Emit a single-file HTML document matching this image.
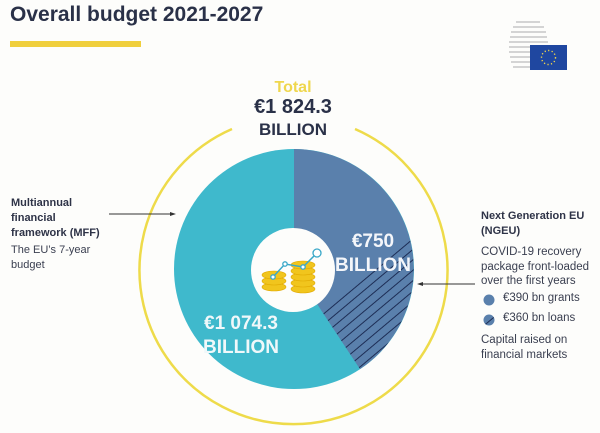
<!DOCTYPE html>
<html><head><meta charset="utf-8"><style>
html,body{margin:0;padding:0;background:#fdfdfb;}
body{width:600px;height:433px;position:relative;overflow:hidden;font-family:"Liberation Sans",sans-serif;color:#2b3147;}
.t{position:absolute;white-space:nowrap;}
</style></head><body>
<div class="t" style="left:10px;top:3px;font-size:21px;font-weight:bold;color:#2a3148;">Overall budget 2021-2027</div>
<div style="position:absolute;left:10px;top:41px;width:131px;height:6px;background:#f0cf3c;"></div>

<svg width="600" height="433" style="position:absolute;left:0;top:0">
  <defs>
    <pattern id="h" patternUnits="userSpaceOnUse" width="8" height="8" patternTransform="rotate(-40)">
      <rect width="8" height="8" fill="#5a80ac"/>
      <line x1="0" y1="0" x2="8" y2="0" stroke="#1d2d55" stroke-width="2"/>
    </pattern>
    <clipPath id="c"><polygon points="318,312 416,228 430,250 430,400 350,400"/></clipPath>
  </defs>
  <g stroke="#c7c7c7" stroke-width="1.6">
    <line x1="516" y1="22" x2="540" y2="22"/><line x1="513" y1="27" x2="544" y2="27"/>
    <line x1="511" y1="32" x2="546" y2="32"/><line x1="510" y1="37" x2="547" y2="37"/>
    <line x1="509" y1="42" x2="548" y2="42"/><line x1="509" y1="47" x2="530" y2="47"/>
    <line x1="509" y1="52" x2="530" y2="52"/><line x1="510" y1="57" x2="530" y2="57"/>
    <line x1="511" y1="62" x2="530" y2="62"/><line x1="513" y1="67" x2="530" y2="67"/>
  </g>
  <rect x="530" y="45" width="37" height="25" fill="#1f47a0"/>
  <circle cx="548.5" cy="57.5" r="7" fill="none" stroke="#f5d84a" stroke-width="1.4" stroke-dasharray="1.2 2.4"/>
  <path d="M232,129 A154,154 0 1 0 355,129" fill="none" stroke="#eedb4a" stroke-width="2.5"/>
  <circle cx="294" cy="269" r="120" fill="#3fb9cc"/>
  <path d="M294,269 L294,149 A120,120 0 0 1 360,369 Z" fill="#5a80ac"/>
  <path d="M294,269 L294,149 A120,120 0 0 1 360,369 Z" fill="url(#h)" clip-path="url(#c)"/>
  <circle cx="293" cy="270" r="42" fill="#fdfdfb"/>
  <g fill="#f1c51d" stroke="#e0a800" stroke-width="0.6">
    <ellipse cx="274" cy="287" rx="12" ry="4"/><ellipse cx="274" cy="281" rx="12" ry="4"/><ellipse cx="274" cy="275" rx="12" ry="4"/>
    <ellipse cx="303" cy="289" rx="12" ry="4"/><ellipse cx="303" cy="283" rx="12" ry="4"/><ellipse cx="303" cy="277" rx="12" ry="4"/><ellipse cx="303" cy="271" rx="12" ry="4"/><ellipse cx="303" cy="265" rx="12" ry="4"/>
  </g>
  <polyline points="273,277 285,264 303,267 316,254" fill="none" stroke="#3aa8c8" stroke-width="1.5"/>
  <g fill="#fff" stroke="#3aa8c8" stroke-width="1.3"><circle cx="273" cy="277" r="2.2"/><circle cx="285" cy="264" r="2.2"/><circle cx="303" cy="267" r="2.2"/><circle cx="317" cy="253" r="4"/></g>
  <line x1="109" y1="214" x2="172" y2="214" stroke="#333" stroke-width="1"/><polygon points="176,214 170,212 170,216" fill="#333"/>
  <line x1="421" y1="284" x2="475" y2="284" stroke="#333" stroke-width="1"/><polygon points="417,284 423,282 423,286" fill="#333"/>
  <circle cx="489" cy="300" r="5.5" fill="#5a80ac"/>
  <circle cx="489" cy="320" r="5.5" fill="url(#h)"/>
</svg>

<div class="t" style="left:243px;top:79px;width:100px;text-align:center;font-size:16px;font-weight:bold;color:#efd74e;">Total</div>
<div class="t" style="left:218px;top:96px;width:150px;text-align:center;font-size:20px;font-weight:bold;color:#2a3148;">€1 824.3</div>
<div class="t" style="left:218px;top:120px;width:150px;text-align:center;font-size:17px;font-weight:bold;color:#2a3148;">BILLION</div>

<div class="t" style="left:318px;top:230px;width:110px;text-align:center;font-size:19px;font-weight:bold;color:#f4f6fa;line-height:24px;">€750<br>BILLION</div>
<div class="t" style="left:186px;top:312px;width:110px;text-align:center;font-size:19px;font-weight:bold;color:#f0f8fa;line-height:24px;">€1 074.3<br>BILLION</div>

<div class="t" style="left:11px;top:196px;font-size:11px;font-weight:bold;line-height:15px;color:#2e3347;">Multiannual<br>financial<br>framework (MFF)</div>
<div class="t" style="left:11px;top:243px;font-size:11px;line-height:15px;color:#3a3f50;">The EU’s 7-year<br>budget</div>

<div class="t" style="left:481px;top:209px;font-size:11px;font-weight:bold;line-height:15px;color:#2e3347;">Next Generation EU<br>(NGEU)</div>
<div class="t" style="left:481px;top:245px;font-size:11.5px;line-height:14.5px;color:#3a3f50;">COVID-19 recovery<br>package front-loaded<br>over the first years</div>
<div class="t" style="left:503px;top:292px;font-size:11.5px;color:#3a3f50;">€390 bn grants</div>
<div class="t" style="left:503px;top:312px;font-size:11.5px;color:#3a3f50;">€360 bn loans</div>
<div class="t" style="left:481px;top:333px;font-size:11.5px;line-height:14.5px;color:#3a3f50;">Capital raised on<br>financial markets</div>
</body></html>
